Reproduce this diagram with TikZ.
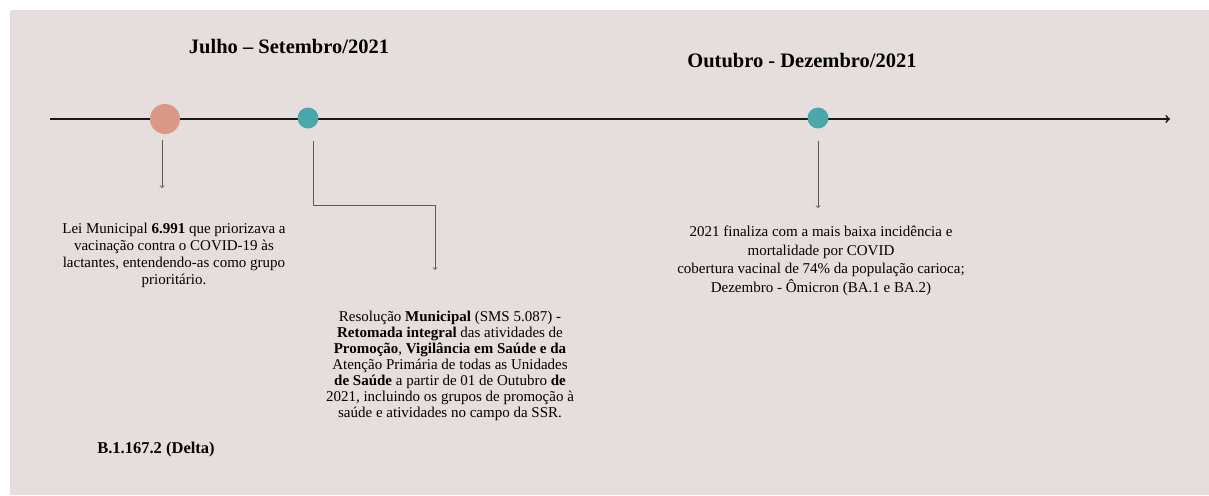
\documentclass[tikz,border=0pt]{standalone}
\usepackage{fontspec}
\setmainfont{Liberation Serif}
\usepackage{xcolor}
\usepackage{tikz}
\definecolor{paper}{RGB}{230,222,220}
\definecolor{salmon}{RGB}{219,152,134}
\definecolor{tealdot}{RGB}{74,168,170}
\definecolor{lead}{RGB}{95,90,90}

\begin{document}
\begin{tikzpicture}[x=1pt,y=-1pt,
    every node/.style={align=center,inner sep=0pt},
    timeline/.style={line width=1.8pt,black!90,-{>[scale=0.9]}},
    pointer/.style={lead,line width=0.8pt,-{>[scale=1.5]}},
    period/.style={font=\fontsize{20.5}{24}\selectfont\bfseries},
    event/.style={font=\fontsize{15}{17}\selectfont},
    salmon dot/.style={shape=circle,fill=salmon,minimum size=30pt},
    teal dot/.style={shape=circle,fill=tealdot,minimum size=21pt}]
      \useasboundingbox (0,0) rectangle (1209,495);
      \fill[paper] (10,10) rectangle (1209,495);
      % periods
      \node[period] (julset) at (289,47) {Julho -- Setembro/2021};
      \node[period] (outdez) at (802,61) {Outubro - Dezembro/2021};
      % the line
      \coordinate (start) at (50,119);
      \coordinate (end) at (1170,119);
      \draw[timeline] (start) -- (end);
      \node[salmon dot] (jul) at (165,119) {};
      \node[teal dot] (set) at (308,118) {};
      \node[teal dot] (out) at (818,118) {};
      % events
      \node[event] (lei) at (174,255) {Lei Municipal \textbf{6.991} que priorizava a\\ vacinação contra o COVID-19 às\\ lactantes, entendendo-as como grupo\\ prioritário.};
      \node[event,font=\fontsize{15}{16}\selectfont] (res) at (450,366) {Resolução \textbf{Municipal} (SMS 5.087) -\\ \textbf{Retomada integral} das atividades de\\ \textbf{Promoção}, \textbf{Vigilância em Saúde e da}\\ Atenção Primária de todas as Unidades\\ \textbf{de Saúde} a partir de 01 de Outubro \textbf{de}\\ 2021, incluindo os grupos de promoção à\\ saúde e atividades no campo da SSR.};
      \node[event,font=\fontsize{15}{18.5}\selectfont] (fim) at (821,261) {2021 finaliza com a mais baixa incidência e\\ mortalidade por COVID\\ cobertura vacinal de 74\% da população carioca;\\ Dezembro - Ômicron (BA.1 e BA.2)};
      \node[event,font=\fontsize{16.5}{19}\selectfont\bfseries] (delta) at (156,450) {B.1.167.2 (Delta)};
      % pointers
      \coordinate (lei end) at (162,188);
      \coordinate (res bend) at (435,205);
      \coordinate (res end) at (435,270);
      \coordinate (fim end) at (818,208);
      \draw[pointer,shorten <=6pt] (jul.south -| lei end) -- (lei end);
      \draw[pointer,shorten <=12pt] (set.south) ++(5,0) |- (res bend) -- (res end);
      \draw[pointer,shorten <=12pt] (out.south) -- (fim end);
\end{tikzpicture}
\end{document}
